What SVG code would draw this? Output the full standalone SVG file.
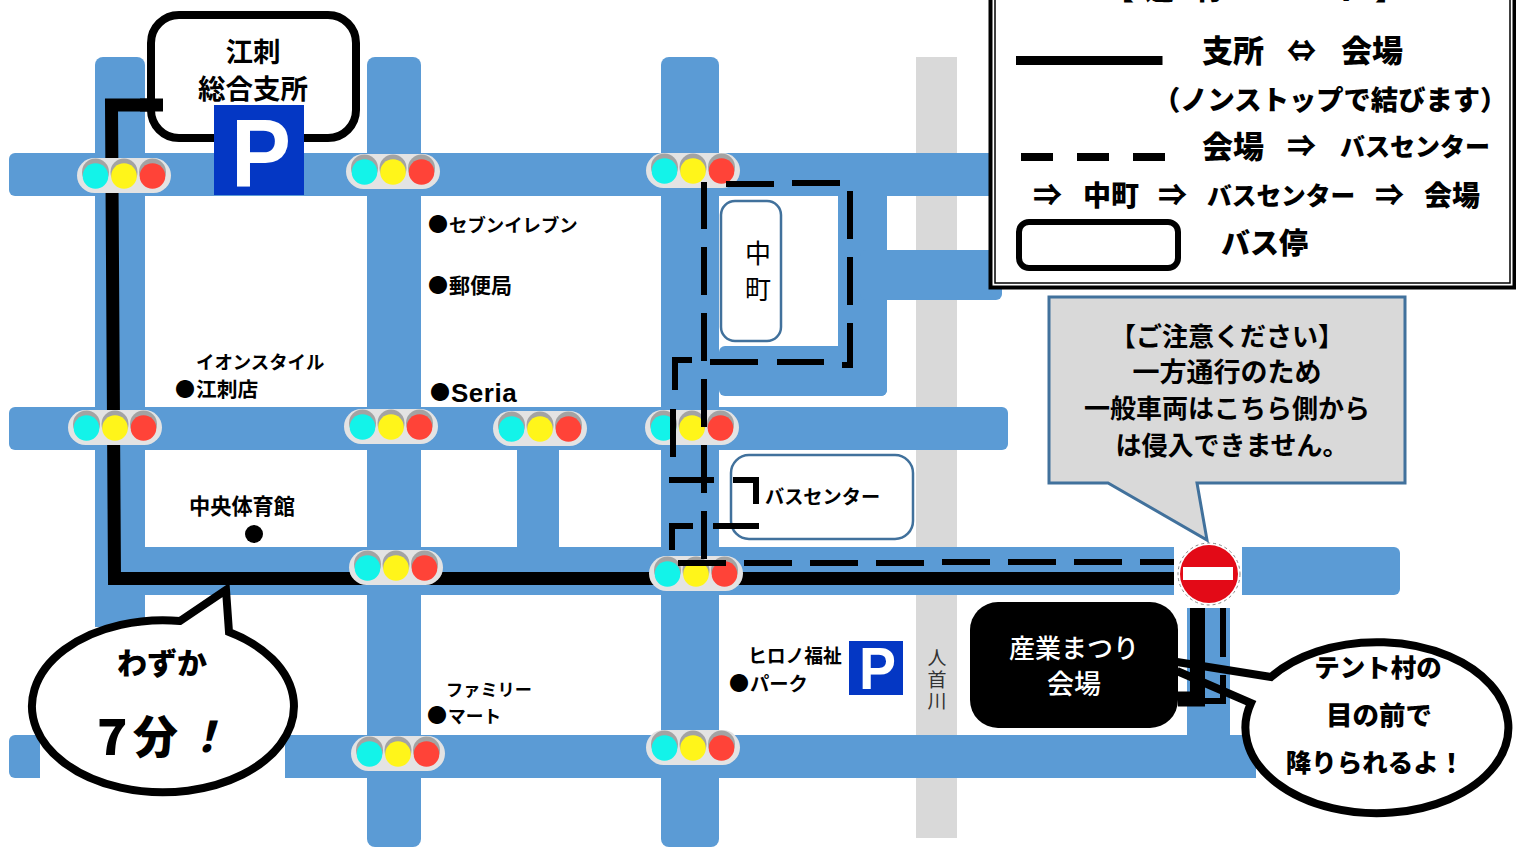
<svg xmlns="http://www.w3.org/2000/svg" xmlns:xlink="http://www.w3.org/1999/xlink" width="1516" height="847" viewBox="0 0 1516 847">
<style>
text{font-family:"Noto Sans CJK JP","Noto Sans",sans-serif;font-weight:700;fill:#000}
.road{fill:#5B9BD5}
.solid{fill:none;stroke:#000;stroke-width:13}
.dash{fill:none;stroke:#000;stroke-width:6}
.stop{fill:#fff;stroke:#41719C;stroke-width:2.5}
.bal{fill:#fff;stroke:#000;stroke-width:8;stroke-linejoin:miter}
.leg{font-weight:900;font-size:29px}
.l31{font-size:31px}
.l28{font-size:28px}
.m{text-anchor:middle}
.b{font-size:20px}
.park{fill:#0437C4}
.pl{font-family:"Liberation Sans",Arial,sans-serif;fill:#fff;text-anchor:middle}
.riv{font-weight:400;fill:#333;text-anchor:middle;font-size:19px}
</style>
<defs>
<g id="tl">
<rect x="-47" y="-17" width="94" height="35" rx="17.5" fill="#E3E3E3"/>
<circle cx="-28.500" cy="-3" r="13.500" fill="#A3A3A3"/><circle cx="0" cy="-3" r="13.500" fill="#A3A3A3"/><circle cx="28.500" cy="-3" r="13.500" fill="#A3A3A3"/>
<circle cx="-28.500" cy="1" r="12.800" fill="#13F3E9"/><circle cx="0" cy="1" r="12.800" fill="#FFF51A"/><circle cx="28.500" cy="1" r="12.800" fill="#FF4338"/>
</g>
</defs>
<rect width="1516" height="847" fill="#fff"/>
<g id="river"><rect x="916" y="57" width="41" height="781" fill="#D9D9D9"/></g>
<g id="roads">
<path class="road" d="M95 627V65a8 8 0 0 1 8-8H137a8 8 0 0 1 8 8V627Z"/>
<rect class="road" x="367" y="57" width="54" height="790" rx="8"/>
<rect class="road" x="661" y="57" width="58" height="790" rx="8"/>
<rect class="road" x="9" y="153" width="990" height="43" rx="6"/>
<rect class="road" x="9" y="407" width="999" height="43" rx="6"/>
<rect class="road" x="95" y="547" width="1305" height="48" rx="6"/>
<path class="road" d="M40 735H15a6 6 0 0 0-6 6V772a6 6 0 0 0 6 6H40Z"/>
<rect class="road" x="285" y="735" width="971" height="43"/>
<rect class="road" x="517" y="450" width="42" height="97"/>
<rect class="road" x="838" y="153" width="49" height="243" rx="6"/>
<rect class="road" x="719" y="346" width="168" height="50" rx="6"/>
<rect class="road" x="860" y="250" width="142" height="50" rx="6"/>
<rect class="road" x="1187" y="608" width="43" height="135"/>
</g>
<g id="connectors-solid">
<path class="solid" d="M163 105H111.500L114.500 578.500H1178"/>
<path d="M1197.500 608V699H1178" fill="none" stroke="#000" stroke-width="15"/>
</g>
<g id="lights">
<use xlink:href="#tl" href="#tl" x="124" y="175"/>
<use xlink:href="#tl" href="#tl" x="393" y="171"/>
<use xlink:href="#tl" href="#tl" x="693" y="170"/>
<use xlink:href="#tl" href="#tl" x="115" y="427"/>
<use xlink:href="#tl" href="#tl" x="391" y="426"/>
<use xlink:href="#tl" href="#tl" x="540" y="428"/>
<use xlink:href="#tl" href="#tl" x="692" y="427"/>
<use xlink:href="#tl" href="#tl" x="396" y="567"/>
<use xlink:href="#tl" href="#tl" x="696" y="573"/>
<use xlink:href="#tl" href="#tl" x="398" y="753"/>
<use xlink:href="#tl" href="#tl" x="693" y="747"/>
</g>
<g id="node-gosho">
<rect x="151" y="15" width="205" height="123" rx="28" fill="#fff" stroke="#000" stroke-width="8"/>
<path class="solid" d="M140 105H163"/>
<text class="m" x="253" y="62" font-size="27.500">江刺</text>
<text class="m" x="253" y="99" font-size="27.500">総合支所</text>
<rect class="park" x="214" y="105" width="90" height="90"/>
<text class="pl" x="261" y="186" font-size="96" textLength="60" lengthAdjust="spacingAndGlyphs">P</text>
</g>
<g id="node-nakamachi">
<rect class="stop" x="721" y="201" width="60" height="140" rx="14"/>
<text class="m" x="758" y="263" font-size="26" style="font-weight:400">中</text>
<text class="m" x="758" y="299" font-size="26" style="font-weight:400">町</text>
</g>
<g id="node-buscenter">
<rect class="stop" x="731" y="455" width="182" height="84" rx="18"/>
<text x="765" y="504" font-size="19.200">バスセンター</text>
</g>
<g id="connectors-dashed">
<path class="dash" d="M704 182V229M704 247V295M704 313V361M704 379V427M704 445V493M704 511V559"/>
<path class="dash" d="M726 184H774M792 183H840M850 191V239M850 257V305M850 323V365H842M824 362H777M758 362H710M692 360H675V390M673 409V457"/>
<path class="dash" d="M669 480H714M733 480H756V504M759 526H713M693 526H672V550"/>
<path class="dash" d="M678 563H726M744 563H792M810 563H858M876 563H924M942 562H990M1008 562H1056M1074 562H1122M1140 562H1176"/>
<path class="dash" d="M1223 608V657M1223 675V701H1205"/>
</g>
<g id="node-noentry">
<rect x="1174" y="540" width="68" height="68" fill="#fff"/>
<circle cx="1209" cy="574" r="31" fill="#fff" stroke="#888" stroke-width="1" stroke-dasharray="3 3"/>
<circle cx="1209" cy="574" r="29" fill="#E30A17"/>
<rect x="1183" y="567" width="50" height="13" fill="#fff"/>
</g>
<g id="node-venue">
<rect x="970" y="602" width="208" height="126" rx="28" fill="#000"/>
<text class="m" x="1074" y="658" font-size="26" style="fill:#fff;font-weight:500">産業まつり</text>
<text class="m" x="1074" y="694" font-size="27" style="fill:#fff;font-weight:500">会場</text>
</g>
<g id="balloon-left">
<path class="bal" d="M180 621L226 590L229 632A131 86 0 1 1 180 621Z"/>
<text class="m" x="162" y="674" font-size="30" style="font-weight:900">わずか</text>
<text x="97" y="755" font-size="50" style="font-weight:900">7</text>
<text x="133" y="754" font-size="45" style="font-weight:900">分</text>
<text x="185" y="752" font-size="42" style="font-weight:900;font-style:italic">！</text>
</g>
<g id="balloon-right">
<path d="M1271 677A131.500 85.500 0 1 1 1251 703Z" fill="#fff"/>
<path d="M1177 662L1271 677A131.500 85.500 0 1 1 1251 703L1177 671" fill="none" stroke="#000" stroke-width="8" stroke-linejoin="miter"/>
<text class="m" x="1378" y="677" font-size="25.500" style="font-weight:900">テント村の</text>
<text class="m" x="1379" y="725" font-size="26.500" style="font-weight:900">目の前で</text>
<text class="m" x="1375" y="772" font-size="25.500" style="font-weight:900">降りられるよ！</text>
</g>
<g id="labels">
<text x="428" y="232" font-size="20">●</text><text x="449" y="232" font-size="18.400">セブンイレブン</text>
<text x="428" y="293" font-size="20">●</text><text x="449" y="293" font-size="21">郵便局</text>
<text x="196" y="369" font-size="18.400">イオンスタイル</text>
<text x="175" y="397" font-size="20">●</text><text x="196" y="397" font-size="20.700">江刺店</text>
<text x="430" y="400" font-size="20">●</text>
<text x="451" y="402" font-size="26" style="font-family:'Liberation Sans',Arial,sans-serif;letter-spacing:0.500px">Seria</text>
<text x="189" y="514" font-size="21.200">中央体育館</text>
<circle cx="254" cy="534" r="9"/>
<text x="446" y="696" font-size="17.200">ファミリー</text>
<text x="427" y="723" font-size="20">●</text><text x="448" y="723" font-size="17.700">マート</text>
<text x="748" y="663" font-size="18.800">ヒロノ福祉</text>
<text x="729" y="691" font-size="20">●</text><text x="750" y="691" font-size="19.300">パーク</text>
<text class="riv" x="937" y="665">人</text>
<text class="riv" x="937" y="687">首</text>
<text class="riv" x="937" y="708">川</text>
</g>
<g id="node-parking2">
<rect class="park" x="849" y="641" width="54" height="54"/>
<text class="pl" x="877.500" y="689" font-size="59" textLength="37" lengthAdjust="spacingAndGlyphs">P</text>
</g>
<g id="callout">
<path d="M1049 297H1405V483H1197L1207 540L1108 483H1049Z" fill="#D9D9D9" stroke="#41719C" stroke-width="3"/>
<text class="m" x="1227" y="346" font-size="26">【ご注意ください】</text>
<text class="m" x="1227" y="382" font-size="27">一方通行のため</text>
<text class="m" x="1227" y="418" font-size="26">一般車両はこちら側から</text>
<text class="m" x="1232" y="455" font-size="26">は侵入できません。</text>
</g>
<g id="legend">
<rect x="990.500" y="-20" width="524" height="307.500" fill="#fff" stroke="#000" stroke-width="4"/>
<rect x="995" y="-20" width="515" height="303" fill="none" stroke="#000" stroke-width="1.500"/>
<text class="leg" x="1105" y="0">【</text><text class="leg" x="1145" y="0">運</text><text class="leg" x="1195" y="0">行</text><text class="leg" x="1255" y="-6">ル</text><text class="leg" x="1298" y="-6">ー</text><text class="leg" x="1335" y="0">ト</text><text class="leg" x="1375" y="0">】</text>
<rect x="1016" y="56" width="146.500" height="9"/>
<text class="leg l31" x="1202" y="62">支所</text><text class="leg" x="1287" y="62">⇔</text><text class="leg l31" x="1341" y="62">会場</text>
<text class="leg" x="1153" y="110" style="font-size:27.300px">（ノンストップで結びます）</text>
<rect x="1021" y="153" width="32" height="8"/><rect x="1077" y="153" width="32" height="8"/><rect x="1133" y="153" width="32" height="8"/>
<text class="leg l31" x="1202" y="158">会場</text><text class="leg" x="1287" y="157">⇒</text><text class="leg" x="1340" y="156" style="font-size:25px">バスセンター</text>
<text class="leg" x="1033" y="206">⇒</text><text class="leg l28" x="1083" y="206">中町</text><text class="leg" x="1158" y="206">⇒</text><text class="leg" x="1207" y="205" style="font-size:24.700px">バスセンター</text><text class="leg" x="1375" y="206">⇒</text><text class="leg l28" x="1424" y="206">会場</text>
<rect x="1019" y="222" width="159" height="46" rx="10" fill="#fff" stroke="#000" stroke-width="6"/>
<text class="leg" x="1221" y="254">バス停</text>
</g>
</svg>
